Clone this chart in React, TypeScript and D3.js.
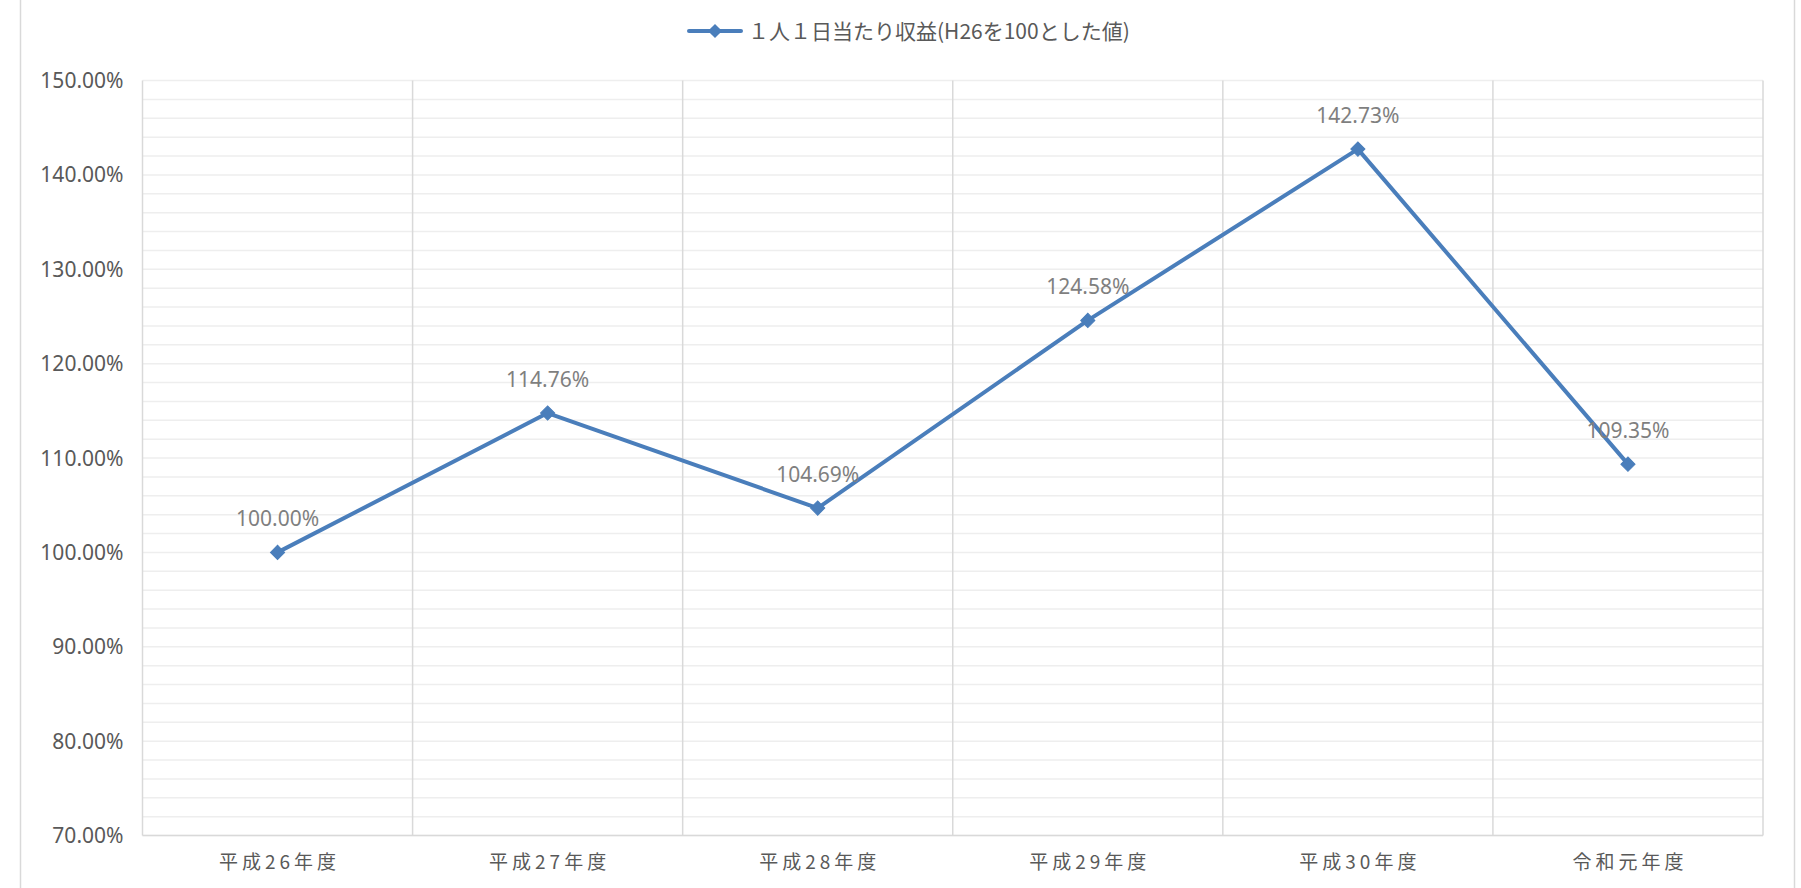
import React from "react";
import * as d3 from "d3";

const categories = ["平成26年度", "平成27年度", "平成28年度", "平成29年度", "平成30年度", "令和元年度"];
const values = [100.0, 114.76, 104.69, 124.58, 142.73, 109.35];
const yTicks = [70, 80, 90, 100, 110, 120, 130, 140, 150];
const seriesName = "１人１日当たり収益(H26を100とした値)";

const W = 1801;
const H = 888;
const M = { left: 142.5, right: 1763, top: 80.5, bottom: 835.5 };
const LINE = "#4a7ebb";
const CJK = "'Noto Sans CJK JP', 'Noto Sans', sans-serif";
const LAT = "'Noto Sans', 'Liberation Sans', sans-serif";

export default function App() {
  const x = d3.scaleBand<string>().domain(categories).range([M.left, M.right]).paddingInner(0).paddingOuter(0);
  const y = d3.scaleLinear().domain([70, 150]).range([M.bottom, M.top]);
  const minor = d3.range(70, 150.001, 2);
  const cx = (c: string) => (x(c) as number) + x.bandwidth() / 2;
  const line = d3
    .line<number>()
    .x((_, i) => cx(categories[i]))
    .y((d) => y(d));
  const diamond = d3.symbol().type(d3.symbolSquare).size(100)();
  const boundaries = categories.map((c) => x(c) as number).concat([M.right]);

  return (
    <svg
      width={W}
      height={H}
      style={{ position: "absolute", left: 0, top: 0, background: "#fff" }}
      xmlns="http://www.w3.org/2000/svg"
    >
      <rect x={0} y={0} width={W} height={H} fill="#fff" />
      <line x1={20.5} x2={20.5} y1={0} y2={H} stroke="#d9d9d9" strokeWidth={1.5} />
      <line x1={1794.5} x2={1794.5} y1={0} y2={H} stroke="#d9d9d9" strokeWidth={1.5} />

      {minor.map((v) => (
        <line key={"g" + v} x1={M.left} x2={M.right} y1={y(v)} y2={y(v)} stroke="#eeeeee" strokeWidth={1.5} />
      ))}
      {boundaries.map((b, i) => (
        <line key={"v" + i} x1={b} x2={b} y1={M.top} y2={M.bottom} stroke="#d9d9d9" strokeWidth={1.5} />
      ))}
      <line x1={M.left} x2={M.right} y1={M.bottom} y2={M.bottom} stroke="#d9d9d9" strokeWidth={1.5} />

      {yTicks.map((t) => (
        <text
          key={"t" + t}
          x={M.left - 19}
          y={y(t)}
          dy="0.36em"
          textAnchor="end"
          fontFamily={LAT}
          fontSize={21}
          fill="#595959"
        >
          {t.toFixed(2) + "%"}
        </text>
      ))}

      {categories.map((c) => (
        <text
          key={"x" + c}
          x={cx(c) + 2}
          y={869}
          textAnchor="middle"
          fontFamily={CJK}
          fontSize={19}
          letterSpacing={4}
          fill="#595959"
        >
          {c}
        </text>
      ))}

      <path d={line(values) || ""} fill="none" stroke={LINE} strokeWidth={4} strokeLinejoin="round" />
      {values.map((v, i) => (
        <path
          key={"m" + i}
          d={diamond || ""}
          transform={`translate(${cx(categories[i])},${y(v)}) rotate(45)`}
          fill={LINE}
          stroke={LINE}
          strokeWidth={1}
        />
      ))}

      {values.map((v, i) => (
        <text
          key={"l" + i}
          x={cx(categories[i])}
          y={y(v) - 26}
          textAnchor="middle"
          fontFamily={LAT}
          fontSize={21}
          fill="#7f7f7f"
        >
          {v.toFixed(2) + "%"}
        </text>
      ))}

      <line x1={689} x2={741} y1={31} y2={31} stroke={LINE} strokeWidth={4} strokeLinecap="round" />
      <path d={diamond || ""} transform="translate(715,31) rotate(45)" fill={LINE} />
      <text x={748} y={31} dy="0.36em" fontFamily={CJK} fontSize={21} fill="#595959">
        {seriesName}
      </text>
    </svg>
  );
}
